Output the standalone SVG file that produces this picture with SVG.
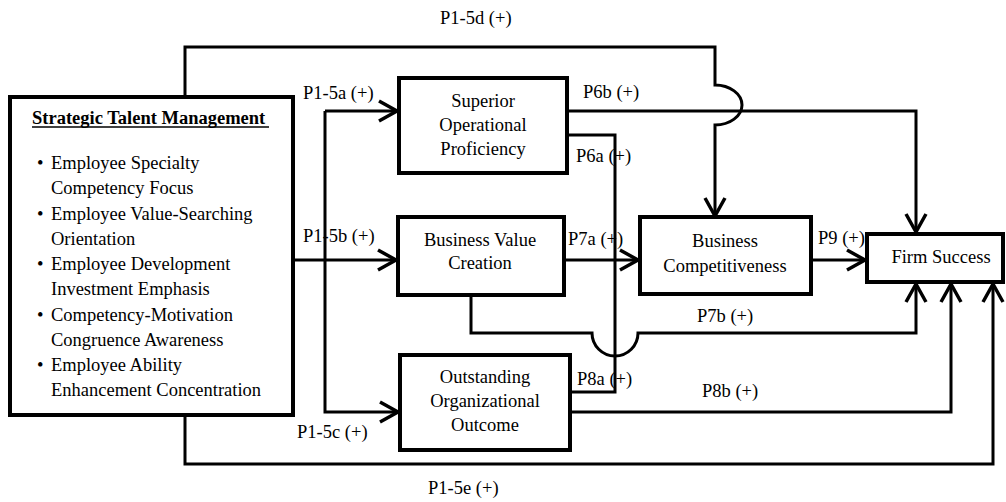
<svg xmlns="http://www.w3.org/2000/svg" width="1006" height="502" viewBox="0 0 1006 502">
<style>
.box{fill:#fff;stroke:#000;stroke-width:4}
.ln{fill:none;stroke:#000;stroke-width:3}
.t{font-family:"Liberation Serif","Times New Roman",serif;font-size:18.5px;fill:#000}
.c{text-anchor:middle}
.lb{font-family:"Liberation Serif","Times New Roman",serif;font-size:18.5px;fill:#000}
</style>
<defs>
<marker id="arr" markerUnits="userSpaceOnUse" markerWidth="26" markerHeight="26" viewBox="0 0 26 26" refX="21" refY="13" orient="auto">
<path d="M3,3 L21,13 L3,23" fill="none" stroke="#000" stroke-width="3.5"/>
</marker>
</defs>
<rect width="1006" height="502" fill="#fff"/>
<g id="connectors">
<path class="ln" d="M185,97 V47 H715 V85 A27,20 0 0 1 715,125 V216" marker-end="url(#arr)"/>
<path class="ln" d="M567,111 H916 V232" marker-end="url(#arr)"/>
<path class="ln" d="M325,111 H397" marker-end="url(#arr)"/>
<path class="ln" d="M325,111 V412 H398" marker-end="url(#arr)"/>
<path class="ln" d="M293,260 H396" marker-end="url(#arr)"/>
<path class="ln" d="M566,135 H615 V392 H570"/>
<path class="ln" d="M564,260 H638" marker-end="url(#arr)"/>
<path class="ln" d="M471,295 V333 H592 A23,23 0 0 0 638,333 H916 V284" marker-end="url(#arr)"/>
<path class="ln" d="M811,260 H865" marker-end="url(#arr)"/>
<path class="ln" d="M570,412 H951 V284" marker-end="url(#arr)"/>
<path class="ln" d="M185,415 V464 H993 V284" marker-end="url(#arr)"/>
<text class="lb" x="440" y="24">P1-5d (+)</text>
<text class="lb" x="303" y="99">P1-5a (+)</text>
<text class="lb" x="303" y="242">P1-5b (+)</text>
<text class="lb" x="297" y="438">P1-5c (+)</text>
<text class="lb" x="583" y="98">P6b (+)</text>
<text class="lb" x="576" y="162">P6a (+)</text>
<text class="lb" x="568" y="245">P7a (+)</text>
<text class="lb" x="697" y="322">P7b (+)</text>
<text class="lb" x="577" y="385">P8a (+)</text>
<text class="lb" x="702" y="397">P8b (+)</text>
<text class="lb" x="818" y="244">P9 (+)</text>
<text class="lb" x="428" y="494">P1-5e (+)</text>
</g>
<g id="stm">
<rect class="box" x="10" y="97" width="283" height="318"/>
<text class="t" x="32" y="124" font-weight="bold">Strategic Talent Management</text>
<line x1="32" y1="127" x2="269" y2="127" stroke="#000" stroke-width="1.3"/>
<g class="t">
<text x="37" y="169">•</text><text x="51" y="169">Employee Specialty</text>
<text x="51" y="194">Competency Focus</text>
<text x="37" y="219.5">•</text><text x="51" y="219.5">Employee Value-Searching</text>
<text x="51" y="245">Orientation</text>
<text x="37" y="270">•</text><text x="51" y="270">Employee Development</text>
<text x="51" y="295">Investment Emphasis</text>
<text x="37" y="320.5">•</text><text x="51" y="320.5">Competency-Motivation</text>
<text x="51" y="346">Congruence Awareness</text>
<text x="37" y="371">•</text><text x="51" y="371">Employee Ability</text>
<text x="51" y="396">Enhancement Concentration</text>
</g>
</g>
<g id="sop">
<rect class="box" x="399" y="78" width="168" height="95"/>
<text class="t c" x="483" y="107">Superior</text>
<text class="t c" x="483" y="131">Operational</text>
<text class="t c" x="483" y="155">Proficiency</text>
</g>
<g id="bvc">
<rect class="box" x="398" y="217" width="166" height="78"/>
<text class="t c" x="480" y="246">Business Value</text>
<text class="t c" x="480" y="269">Creation</text>
</g>
<g id="ooo">
<rect class="box" x="400" y="355" width="170" height="95"/>
<text class="t c" x="485" y="383">Outstanding</text>
<text class="t c" x="485" y="407">Organizational</text>
<text class="t c" x="485" y="431">Outcome</text>
</g>
<g id="bc">
<rect class="box" x="640" y="217" width="171" height="77"/>
<text class="t c" x="725" y="247">Business</text>
<text class="t c" x="725" y="272">Competitiveness</text>
</g>
<g id="fs">
<rect class="box" x="867" y="234" width="136" height="48"/>
<text class="t c" x="941" y="263">Firm Success</text>
</g>
</svg>
